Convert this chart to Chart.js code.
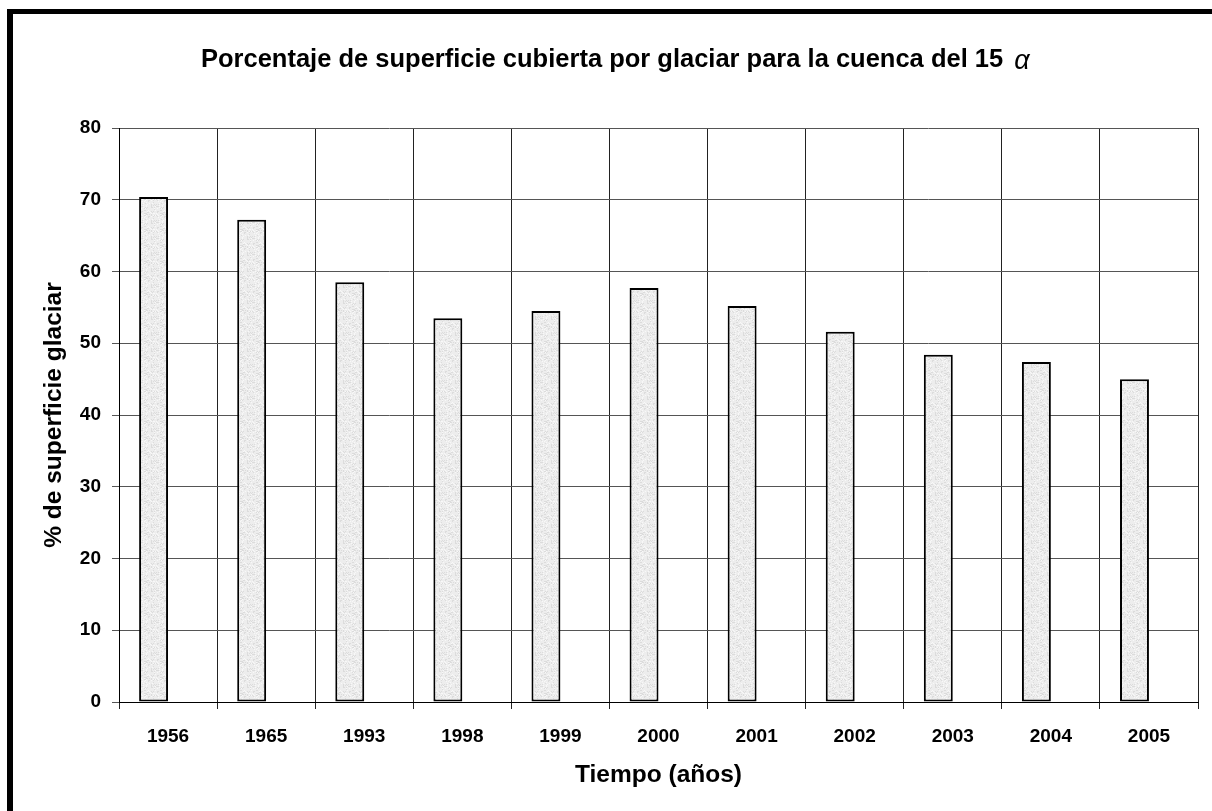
<!DOCTYPE html>
<html>
<head>
<meta charset="utf-8">
<script src="https://cdn.jsdelivr.net/npm/chart.js@4.4.1/dist/chart.umd.min.js"></script>
<style>
  html, body { margin: 0; padding: 0; background: #fff; }
  canvas { display: block; }
</style>
</head>
<body>
<canvas id="glaciar" width="1212" height="811"></canvas>
<script>
//----------------------------------DATA-----------------------------------------------------------

const years = ['1956', '1965', '1993', '1998', '1999', '2000', '2001', '2002', '2003', '2004', '2005']
const cover = [70.4, 67.2, 58.5, 53.5, 54.5, 57.7, 55.2, 51.6, 48.4, 47.4, 45.0]
// the original sheet has a second, empty series next to the bars (that is why they sit left of centre)
const emptySeries = [null, null, null, null, null, null, null, null, null, null, null]
const yTicks = [0, 10, 20, 30, 40, 50, 60, 70, 80]

const chartTitle = 'Porcentaje de superficie cubierta por glaciar para la cuenca del 15'
const xTitle = 'Tiempo (años)'
const yTitle = '% de superficie glaciar'

const FONT = '"Liberation Sans", Arial, sans-serif'

//----------------------------------BAR TEXTURE----------------------------------------------------

// light grey speckled fill, like the old office chart pattern
function makeTexture(){
    let c = document.createElement('canvas')
    c.width = 16
    c.height = 16
    let g = c.getContext('2d')
    g.fillStyle = '#ededed'
    g.fillRect(0, 0, 16, 16)
    for(let y = 0; y < 16; y++){
        for(let x = 0; x < 16; x++){
            let v = Math.sin(x * 12.9898 + y * 78.233) * 43758.5453
            v = v - Math.floor(v)
            if(v < 0.16) g.fillStyle = '#dcdcdc'
            else if(v > 0.85) g.fillStyle = '#f8f8f8'
            else continue
            g.fillRect(x, y, 1, 1)
        }
    }
    return g.createPattern(c, 'repeat')
}

//----------------------------------PLUGINS--------------------------------------------------------

const frame = {
    id: 'frame',
    beforeDraw(chart){
        let ctx = chart.ctx
        ctx.save()
        ctx.fillStyle = '#fff'
        ctx.fillRect(0, 0, chart.width, chart.height)
        ctx.fillStyle = '#000'
        ctx.fillRect(7, 9, chart.width, 5)
        ctx.fillRect(7, 9, 6, chart.height)
        ctx.restore()
    }
}

const labels = {
    id: 'labels',
    afterDraw(chart){
        let ctx = chart.ctx
        let a = chart.chartArea
        ctx.save()
        ctx.fillStyle = '#000'
        ctx.textBaseline = 'alphabetic'

        // chart title, then the alpha in the symbol style
        ctx.font = 'bold 25.5px ' + FONT
        ctx.textAlign = 'left'
        ctx.fillText(chartTitle, 201, 67)
        let w = ctx.measureText(chartTitle + ' ').width
        ctx.font = 'italic 27px ' + FONT
        ctx.fillText('α', 201 + w + 4, 69)

        // x axis title
        ctx.font = 'bold 24.5px ' + FONT
        ctx.textAlign = 'center'
        ctx.fillText(xTitle, (a.left + a.right) / 2, 782)

        // y axis title
        ctx.translate(61, (a.top + a.bottom) / 2)
        ctx.rotate(-Math.PI / 2)
        ctx.fillText(yTitle, 0, 0)
        ctx.restore()
    }
}

//----------------------------------CHART----------------------------------------------------------

const ctx = document.getElementById('glaciar').getContext('2d')
const texture = makeTexture()

new Chart(ctx, {
    type: 'bar',
    data: {
        labels: years,
        datasets: [{
            data: cover,
            backgroundColor: texture,
            borderColor: '#000',
            borderWidth: 2,
            borderSkipped: false
        }, {
            data: emptySeries,
            backgroundColor: texture,
            borderColor: '#000',
            borderWidth: 2
        }]
    },
    options: {
        responsive: false,
        animation: false,
        events: [],
        layout: { padding: { top: 128, right: 14, left: 0, bottom: 0 } },
        datasets: {
            bar: { barPercentage: 1, categoryPercentage: 0.59 }
        },
        plugins: {
            legend: { display: false },
            title: { display: false },
            tooltip: { enabled: false }
        },
        scales: {
            x: {
                afterFit(scale){ scale.height = 109 },
                border: { color: '#000', width: 1 },
                grid: { color: '#222', lineWidth: 1, tickLength: 7, offset: true },
                ticks: {
                    color: '#000',
                    padding: 16,
                    font: { family: FONT, size: 19, weight: 'bold' }
                }
            },
            y: {
                min: 0,
                max: 80,
                afterFit(scale){ scale.width = 119 },
                afterBuildTicks(scale){ scale.ticks = yTicks.map(v => ({ value: v })) },
                border: { color: '#000', width: 1 },
                grid: { color: '#555', lineWidth: 1, tickLength: 7 },
                ticks: {
                    color: '#000',
                    padding: 11,
                    font: { family: FONT, size: 19, weight: 'bold' }
                }
            }
        }
    },
    plugins: [frame, labels]
})
</script>
</body>
</html>
